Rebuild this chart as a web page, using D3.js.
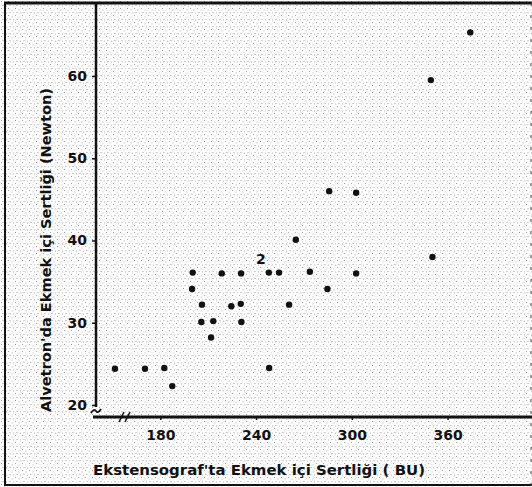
<!DOCTYPE html>
<html><head><meta charset="utf-8">
<script src="https://cdn.jsdelivr.net/npm/d3@7"></script>
<style>body{margin:0;background:#fff;overflow:hidden}</style>
</head><body>
<script>
// Data
const xValues = [151.6,170.4,182.5,187.5,200.3,199.9,206.1,205.7,213.2,211.8,218.5,224.5,230.6,230.4,230.8,248.0,254.4,248.2,260.7,264.9,273.7,284.7,285.8,302.7,302.7,349.5,350.5,374.2];
const yValues = [24.4,24.4,24.5,22.3,36.1,34.1,32.2,30.1,30.2,28.2,36.0,32.0,36.0,32.3,30.1,36.1,36.1,24.5,32.2,40.1,36.2,34.1,46.0,45.8,36.0,59.5,38.0,65.3];
const pointCounts = [1,1,1,1,1,1,1,1,1,1,1,1,1,1,1,2,1,1,1,1,1,1,1,1,1,1,1,1];
const xTicks = [180,240,300,360];
const yTicks = [20,30,40,50,60];
const xTitle = "Ekstensograf'ta Ekmek içi Sertliği ( BU)";
const yTitle = "Alvetron'da Ekmek içi Sertliği (Newton)";

const W = 532, H = 487;
const svg = d3.select("body").append("svg").attr("width", W).attr("height", H);

// stipple texture like the scan
const defs = svg.append("defs");
const pat = defs.append("pattern").attr("id","stip").attr("width",7).attr("height",7)
  .attr("patternUnits","userSpaceOnUse");
pat.append("rect").attr("width",7).attr("height",7).attr("fill","#fff");
[[1,1],[4.5,2.5],[2.5,5],[6,5.5]].forEach(([a,b],i)=>{
  pat.append("rect").attr("x",a).attr("y",b).attr("width",1).attr("height",1)
    .attr("fill", i%2 ? "#b8b8b8" : "#a0a0a0");
});
svg.append("rect").attr("x",0).attr("y",0).attr("width",W).attr("height",H).attr("fill","url(#stip)");

const x = d3.scaleLinear().domain([180,360]).range([160.3,447.6]);
const y = d3.scaleLinear().domain([20,60]).range([405,76]);

const axisX0 = 96, axisY0 = 417;
const font = "'DejaVu Sans', sans-serif";

// frame
const frame = svg.append("g").attr("stroke","#111").attr("fill","none");
frame.append("line").attr("x1",4).attr("x2",W).attr("y1",3).attr("y2",3).attr("stroke-width",3);
frame.append("line").attr("x1",5).attr("x2",5).attr("y1",3).attr("y2",486).attr("stroke-width",2);
frame.append("line").attr("x1",4).attr("x2",W).attr("y1",485).attr("y2",485).attr("stroke-width",2);
frame.append("line").attr("x1",531).attr("x2",531).attr("y1",3).attr("y2",486).attr("stroke-width",1).attr("stroke-dasharray","3,9").attr("stroke","#444");

// y axis
const gy = svg.append("g").attr("transform",`translate(${axisX0},0)`)
  .call(d3.axisLeft(y).tickValues(yTicks).tickSize(4).tickPadding(5));
gy.select(".domain").remove();
gy.selectAll(".tick line").attr("stroke","#111").attr("stroke-width",1.5);
gy.selectAll(".tick text").attr("font-family",font).attr("font-size",14).attr("font-weight","bold").attr("fill","#111");
svg.append("line").attr("x1",axisX0).attr("x2",axisX0).attr("y1",3).attr("y2",407)
  .attr("stroke","#111").attr("stroke-width",2.5);
// y-axis break squiggle
svg.append("path").attr("d",`M${axisX0-5},413 q3,-5 5,-2 q2,3 5,-2`)
  .attr("fill","none").attr("stroke","#111").attr("stroke-width",1.8);

// x axis
const gx = svg.append("g").attr("transform",`translate(0,${axisY0})`)
  .call(d3.axisBottom(x).tickValues(xTicks).tickSize(3).tickPadding(10));
gx.select(".domain").remove();
gx.selectAll(".tick line").attr("stroke","#111").attr("stroke-width",1.5);
gx.selectAll(".tick text").attr("font-family",font).attr("font-size",14).attr("font-weight","bold").attr("fill","#111");
svg.append("line").attr("x1",93).attr("x2",W).attr("y1",axisY0).attr("y2",axisY0)
  .attr("stroke","#111").attr("stroke-width",3);
// x-axis break //
const brk = svg.append("g").attr("stroke","#111").attr("stroke-width",1.6);
brk.append("line").attr("x1",119).attr("x2",124).attr("y1",422).attr("y2",412);
brk.append("line").attr("x1",125).attr("x2",130).attr("y1",422).attr("y2",412);

// points
const pts = xValues.map((v,i)=>({x:v,y:yValues[i],n:pointCounts[i]}));
svg.append("g").selectAll("circle").data(pts).join("circle")
  .attr("cx",d=>x(d.x)).attr("cy",d=>y(d.y)).attr("r",3.2).attr("fill","#111");
svg.append("g").selectAll("text").data(pts.filter(d=>d.n>1)).join("text")
  .attr("x",d=>x(d.x)-8).attr("y",d=>y(d.y)-9)
  .attr("text-anchor","middle").attr("font-family",font).attr("font-size",14).attr("font-weight","bold")
  .attr("fill","#111").text(d=>d.n);

// titles
const xt = svg.append("text").attr("x",259).attr("y",475).attr("text-anchor","middle")
  .attr("font-family",font).attr("font-size",14).attr("fill","#111").attr("font-weight","bold")
  .attr("textLength",332).attr("lengthAdjust","spacingAndGlyphs").text(xTitle);
const yt = svg.append("text").attr("transform","translate(51,250) rotate(-90)").attr("text-anchor","middle")
  .attr("font-family",font).attr("font-size",14).attr("fill","#111").attr("font-weight","bold")
  .attr("textLength",324).attr("lengthAdjust","spacingAndGlyphs").text(yTitle);
</script>
</body></html>
